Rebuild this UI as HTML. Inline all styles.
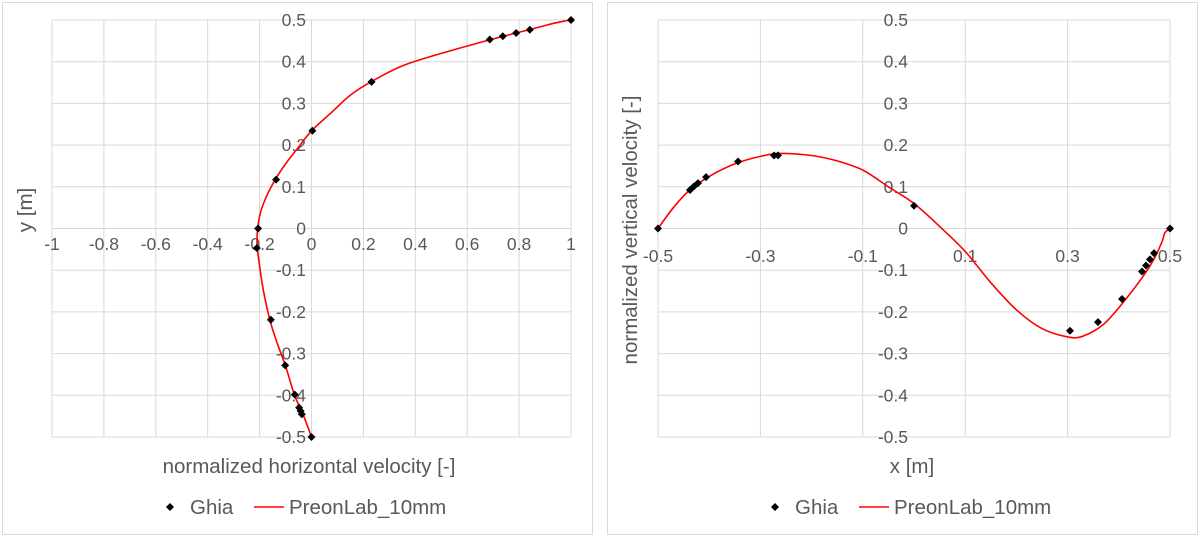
<!DOCTYPE html>
<html><head><meta charset="utf-8"><style>
html,body{margin:0;padding:0;background:#fff;}
svg{display:block;font-family:"Liberation Sans",sans-serif;}
</style></head><body>
<svg id="s" width="1200" height="537" xmlns="http://www.w3.org/2000/svg"></svg>
<script>
var s=document.getElementById('s'),h='';
h+='<rect x="2.5" y="2.5" width="590" height="532" fill="#fff" stroke="#d9d9d9"/>';
h+='<rect x="607.5" y="2.5" width="590" height="532" fill="#fff" stroke="#d9d9d9"/>';
var G='#d9d9d9',T='#595959';
function smooth(pts,fx,fy){var p=pts.map(function(a){return [fx(a[0]),fy(a[1])]});var d='M'+p[0][0].toFixed(1)+' '+p[0][1].toFixed(1);
for(var i=0;i<p.length-1;i++){var p0=p[i>0?i-1:i],p1=p[i],p2=p[i+1],p3=p[i+2<p.length?i+2:i+1];
d+='C'+(p1[0]+(p2[0]-p0[0])/6).toFixed(1)+' '+(p1[1]+(p2[1]-p0[1])/6).toFixed(1)+' '+(p2[0]-(p3[0]-p1[0])/6).toFixed(1)+' '+(p2[1]-(p3[1]-p1[1])/6).toFixed(1)+' '+p2[0].toFixed(1)+' '+p2[1].toFixed(1);}
return d;}
function dia(x,y){return '<path d="M'+x+' '+(y-4)+'L'+(x+4)+' '+y+'L'+x+' '+(y+4)+'L'+(x-4)+' '+y+'Z" fill="#000"/>';}
var TF=17.5,AF=20.5;
// LEFT
var lx=function(u){return 311.5+u*259.5},ly=function(v){return 228.5-v*417};
for(var i=0;i<=10;i++){var x=lx(-1+i*0.2);h+='<line x1="'+x+'" y1="'+ly(0.5)+'" x2="'+x+'" y2="'+ly(-0.5)+'" stroke="'+G+'"/>';}
for(var i=0;i<=10;i++){var y=ly(-0.5+i*0.1);h+='<line x1="'+lx(-1)+'" y1="'+y+'" x2="'+lx(1)+'" y2="'+y+'" stroke="'+G+'"/>';}
var xl=['-1','-0.8','-0.6','-0.4','-0.2','0','0.2','0.4','0.6','0.8','1'];
for(var i=0;i<=10;i++)h+='<text x="'+lx(-1+i*0.2)+'" y="250" font-size="'+TF+'" fill="'+T+'" text-anchor="middle">'+xl[i]+'</text>';
var yl=['-0.5','-0.4','-0.3','-0.2','-0.1','0','0.1','0.2','0.3','0.4','0.5'];
for(var i=0;i<=10;i++)h+='<text x="306" y="'+(ly(-0.5+i*0.1)+6)+'" font-size="'+TF+'" fill="'+T+'" text-anchor="end">'+yl[i]+'</text>';
var lr=[[0,-0.5],[-0.03,-0.45],[-0.065,-0.4],[-0.1,-0.33],[-0.135,-0.27],[-0.16,-0.22],[-0.185,-0.15],[-0.2,-0.09],[-0.21,-0.03],[-0.2,0.03],[-0.175,0.075],[-0.14,0.117],[-0.1,0.155],[-0.05,0.195],[0,0.234],[0.08,0.28],[0.15,0.32],[0.23,0.352],[0.35,0.39],[0.5,0.42],[0.69,0.453],[0.84,0.477],[0.92,0.49],[0.97,0.497],[1,0.5]];
h+='<path d="'+smooth(lr,lx,ly)+'" fill="none" stroke="#ff0000" stroke-width="1.6"/>';
var gu=[1,.84123,.78871,.73722,.68717,.23151,.00332,-.13641,-.20581,-.2109,-.15662,-.1015,-.06434,-.04775,-.04192,-.03717,0];
var gy=[1,.9766,.9688,.9609,.9531,.8516,.7344,.6172,.5,.4531,.2813,.1719,.1016,.0703,.0625,.0547,0];
for(var i=0;i<gu.length;i++)h+=dia(lx(gu[i]),ly(gy[i]-0.5));
h+='<text x="309" y="473" font-size="'+AF+'" fill="'+T+'" text-anchor="middle">normalized horizontal velocity [-]</text>';
h+='<text transform="translate(32,210) rotate(-90)" font-size="'+AF+'" fill="'+T+'" text-anchor="middle">y [m]</text>';
h+=dia(170,507)+'<text x="190" y="514" font-size="'+AF+'" fill="'+T+'">Ghia</text>';
h+='<line x1="254" y1="507" x2="284" y2="507" stroke="#ff0000" stroke-width="1.6"/><text x="289" y="514" font-size="'+AF+'" fill="'+T+'">PreonLab_10mm</text>';
// RIGHT
var rx=function(u){return 658+(u+0.5)*512},ry=function(v){return 228.5-v*417};
for(var i=0;i<=5;i++){var x=rx(-0.5+i*0.2);h+='<line x1="'+x+'" y1="'+ry(0.5)+'" x2="'+x+'" y2="'+ry(-0.5)+'" stroke="'+G+'"/>';}
for(var i=0;i<=10;i++){var y=ry(-0.5+i*0.1);h+='<line x1="'+rx(-0.5)+'" y1="'+y+'" x2="'+rx(0.5)+'" y2="'+y+'" stroke="'+G+'"/>';}
var rl=['-0.5','-0.3','-0.1','0.1','0.3','0.5'];
for(var i=0;i<=5;i++)h+='<text x="'+rx(-0.5+i*0.2)+'" y="262" font-size="'+TF+'" fill="'+T+'" text-anchor="middle">'+rl[i]+'</text>';
for(var i=0;i<=10;i++)h+='<text x="908" y="'+(ry(-0.5+i*0.1)+6)+'" font-size="'+TF+'" fill="'+T+'" text-anchor="end">'+yl[i]+'</text>';
var rr=[[-0.5,0],[-0.47,0.05],[-0.44,0.09],[-0.4,0.125],[-0.35,0.155],[-0.3,0.173],[-0.26,0.18],[-0.2,0.175],[-0.15,0.162],[-0.1,0.14],[-0.05,0.1],[0,0.06],[0.05,0.005],[0.1,-0.055],[0.15,-0.13],[0.2,-0.195],[0.25,-0.24],[0.3,-0.26],[0.33,-0.258],[0.37,-0.23],[0.41,-0.175],[0.45,-0.11],[0.47,-0.07],[0.485,-0.03],[0.49,-0.01],[0.5,0]];
h+='<path d="'+smooth(rr,rx,ry)+'" fill="none" stroke="#ff0000" stroke-width="1.6"/>';
var gx=[1,.9688,.9609,.9531,.9453,.9063,.8594,.8047,.5,.2344,.2266,.1563,.0938,.0781,.0703,.0625,0];
var gv=[0,-.05906,-.07391,-.08864,-.10313,-.16914,-.22445,-.24533,.05454,.17527,.17507,.16077,.12317,.1089,.10091,.09233,0];
for(var i=0;i<gx.length;i++)h+=dia(rx(gx[i]-0.5),ry(gv[i]));
h+='<text x="912" y="473" font-size="'+AF+'" fill="'+T+'" text-anchor="middle">x [m]</text>';
h+='<text transform="translate(637,230) rotate(-90)" font-size="'+AF+'" fill="'+T+'" text-anchor="middle">normalized vertical velocity [-]</text>';
h+=dia(775,507)+'<text x="795" y="514" font-size="'+AF+'" fill="'+T+'">Ghia</text>';
h+='<line x1="859" y1="507" x2="889" y2="507" stroke="#ff0000" stroke-width="1.6"/><text x="894" y="514" font-size="'+AF+'" fill="'+T+'">PreonLab_10mm</text>';
s.innerHTML=h;
</script>
</body></html>
